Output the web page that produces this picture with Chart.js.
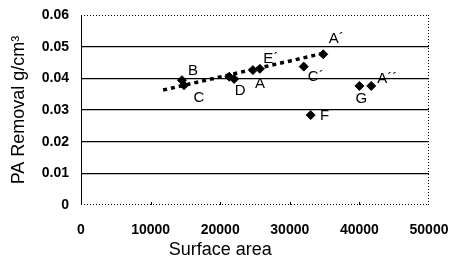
<!DOCTYPE html>
<html>
<head>
<meta charset="utf-8">
<script src="https://cdn.jsdelivr.net/npm/chart.js@4"></script>
<style>
  html, body { margin: 0; padding: 0; background: #fff; }
  #wrap { width: 451px; height: 267px; position: relative; }
</style>
</head>
<body>
<div id="wrap"><canvas id="scatterChart"></canvas></div>
<script>
// values
var surfaceArea = [14500, 14800, 21300, 22000, 24700, 25700, 32000, 34800, 33000, 40000, 41700];
var paRemoval   = [0.0394, 0.0378, 0.0405, 0.0398, 0.0426, 0.0430, 0.0437, 0.0476, 0.0284, 0.0376, 0.0376];
var pointNames  = ['B', 'C', '', 'D', 'A', 'E\u00b4', 'C\u00b4', 'A\u00b4', 'F', 'G', 'A\u00b4\u00b4'];
// trend line end points
var trendX = [11800, 35000];
var trendY = [0.0363, 0.0480];
var yTicks = [0, 0.01, 0.02, 0.03, 0.04, 0.05, 0.06];
var xTitle = 'Surface area';

// label offsets from each marker (px)
var labelOffsets = [[11, -9], [15, 13], [0, 0], [6, 12], [7, 14], [11, -10], [12, 10], [13, -15], [14, 1], [2, 13], [16, -7]];

var frameLines = {
  id: 'frameLines',
  afterDatasetsDraw: function (chart) {
    var ctx = chart.ctx;
    var a = chart.chartArea;
    var xs = chart.scales.x;
    ctx.save();
    ctx.strokeStyle = '#000';
    ctx.lineWidth = 1;
    // dotted top, right and bottom
    ctx.setLineDash([1, 2]);
    ctx.beginPath();
    ctx.moveTo(a.left, a.top + 0.5); ctx.lineTo(a.right, a.top + 0.5);
    ctx.moveTo(a.right - 0.5, a.top); ctx.lineTo(a.right - 0.5, a.bottom);
    ctx.moveTo(a.left, a.bottom - 0.5); ctx.lineTo(a.right, a.bottom - 0.5);
    ctx.stroke();
    // solid left
    ctx.setLineDash([]);
    ctx.beginPath();
    ctx.moveTo(a.left + 0.5, a.top); ctx.lineTo(a.left + 0.5, a.bottom);
    ctx.stroke();
    // small inner tick marks on the x axis
    ctx.beginPath();
    [10000, 20000, 30000, 40000].forEach(function (v) {
      var px = Math.round(xs.getPixelForValue(v)) + 0.5;
      ctx.moveTo(px, a.bottom); ctx.lineTo(px, a.bottom - 3);
    });
    ctx.stroke();
    // point names
    var meta = chart.getDatasetMeta(1);
    ctx.fillStyle = '#000';
    ctx.font = '15px "Liberation Sans", Arial, sans-serif';
    ctx.textAlign = 'center';
    ctx.textBaseline = 'middle';
    meta.data.forEach(function (el, i) {
      if (!pointNames[i]) return;
      ctx.fillText(pointNames[i], el.x + labelOffsets[i][0], el.y + labelOffsets[i][1]);
    });
    // x axis title, sits left of the plot centre as in the original
    ctx.font = '18px "Liberation Sans", Arial, sans-serif';
    ctx.fillText(xTitle, xs.getPixelForValue(20000), a.bottom + 45);
    ctx.restore();
  }
};

var ctx = document.getElementById('scatterChart').getContext('2d');
window.scatterChart = new Chart(ctx, {
  type: 'scatter',
  data: {
    datasets: [{
      type: 'line',
      label: 'trend',
      data: trendX.map(function (x, i) { return { x: x, y: trendY[i] }; }),
      borderColor: '#000',
      borderWidth: 3.5,
      borderDash: [4, 4],
      pointRadius: 0,
      fill: false
    }, {
      label: 'PA Removal',
      data: surfaceArea.map(function (x, i) { return { x: x, y: paRemoval[i] }; }),
      backgroundColor: '#000',
      borderColor: '#000',
      pointStyle: 'rectRot',
      pointRadius: 4.5
    }]
  },
  options: {
    responsive: true,
    maintainAspectRatio: false,
    animation: false,
    layout: { padding: { top: 15, right: 22, left: 8, bottom: 0 } },
    plugins: {
      legend: { display: false },
      tooltip: { enabled: false }
    },
    scales: {
      x: {
        type: 'linear',
        min: 0,
        max: 50000,
        border: { display: false },
        grid: { display: false },
        ticks: {
          stepSize: 10000,
          color: '#000',
          padding: 9,
          maxRotation: 0,
          font: { family: '"Liberation Sans", Arial, sans-serif', size: 14, weight: 'bold' },
          callback: function (v) { return String(v); }
        },
        title: { display: false },
        afterFit: function (scale) {
          scale.height = 62;
          scale.paddingLeft = 0;
          scale.paddingRight = 0;
        }
      },
      y: {
        min: 0,
        max: 0.06,
        border: { display: false },
        afterBuildTicks: function (scale) {
          scale.ticks = yTicks.map(function (v) { return { value: v }; });
        },
        grid: {
          color: function (c) {
            var v = c.tick.value;
            return (v > 0.001 && v < 0.059) ? '#000' : 'rgba(0,0,0,0)';
          },
          lineWidth: 1.3,
          drawTicks: false
        },
        ticks: {
          color: '#000',
          padding: 12,
          font: { family: '"Liberation Sans", Arial, sans-serif', size: 14, weight: 'bold' },
          callback: function (v) { return v === 0 ? '0' : v.toFixed(2); }
        },
        title: {
          display: true,
          text: 'PA Removal g/cm\u00b3',
          color: '#000',
          padding: { top: 0, bottom: 0 },
          font: { family: '"Liberation Sans", Arial, sans-serif', size: 18 }
        },
        afterFit: function (scale) {
          scale.width = 73;
          scale.paddingTop = 0;
          scale.paddingBottom = 0;
        }
      }
    }
  },
  plugins: [frameLines]
});
</script>
</body>
</html>
